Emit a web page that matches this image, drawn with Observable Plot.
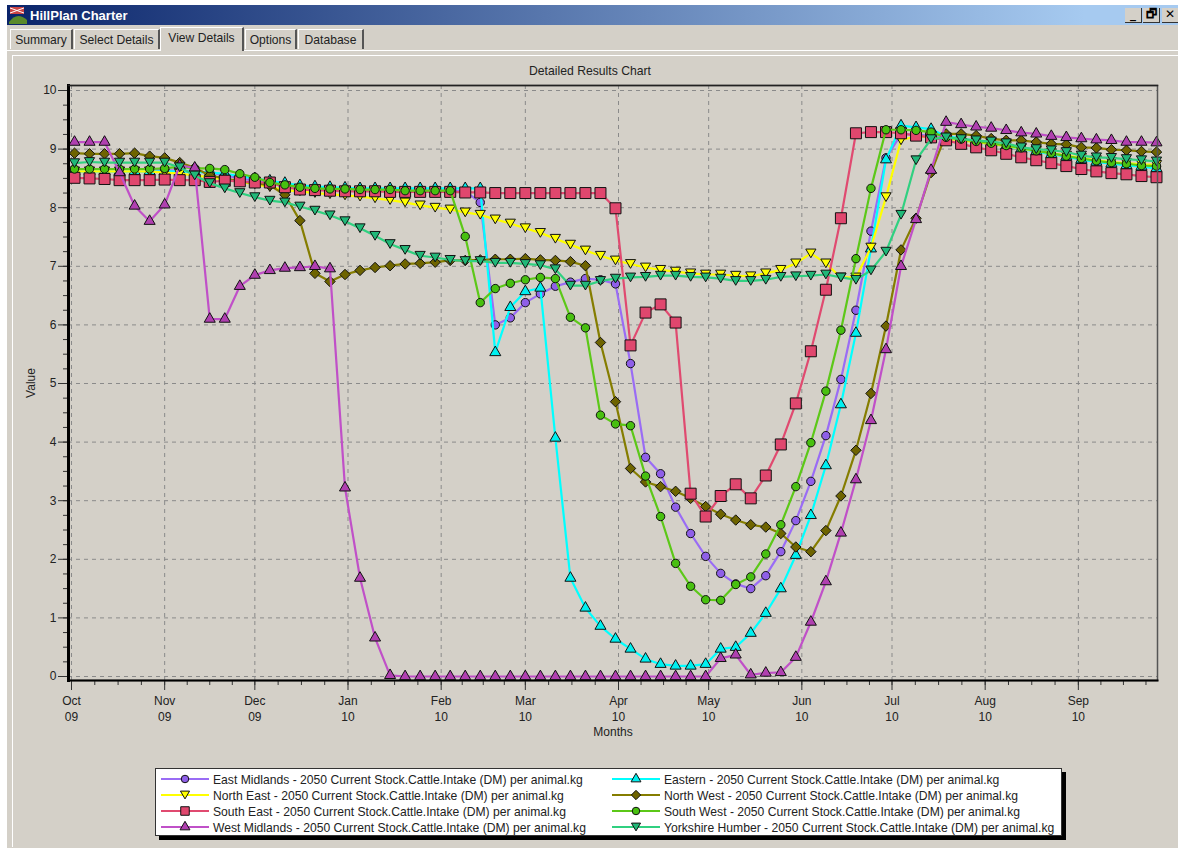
<!DOCTYPE html>
<html><head><meta charset="utf-8">
<script src="https://cdn.jsdelivr.net/npm/d3@7"></script>
<script src="https://cdn.jsdelivr.net/npm/@observablehq/plot@0.6"></script>
<style>
html,body{margin:0;padding:0;background:#fff;overflow:hidden}
#page{position:relative;width:1178px;height:850px;font-family:"Liberation Sans",Arial,sans-serif;color:#222}
#win{position:absolute;left:7px;top:5px;width:1171px;height:843px;background:#d4d0c8}
#bar{position:absolute;left:7px;top:5px;width:1171px;height:20px;background:linear-gradient(90deg,#0a246a,#a6caf0 92%)}
#ttl{position:absolute;left:30px;top:8px;font:bold 13px "Liberation Sans",sans-serif;color:#fff}
.tab{position:absolute;top:29px;height:19px;background:#d4d0c8;border:1px solid #fff;border-right:2px solid #555;border-bottom:none;font:12.1px/20px "Liberation Sans",sans-serif;text-align:center;box-sizing:content-box;color:#222;white-space:nowrap}
.sel{top:27px;height:23px;z-index:2;line-height:20px}
#line1{position:absolute;left:7px;right:0;top:50px;height:1px;background:#fff}
#line2{position:absolute;left:12px;right:0;top:55px;height:1px;background:#fff}
#line3{position:absolute;left:12px;top:55px;width:1px;height:792px;background:#fff}
.btn{position:absolute;top:8px;width:16px;height:14px;background:#d4d0c8;border-right:1px solid #333;border-bottom:1px solid #333;font:bold 12px/13px "DejaVu Sans",sans-serif;text-align:center;color:#000}
#chartTitle{position:absolute;left:0;width:1180px;top:64px;text-align:center;font-size:12.2px}
#plot{position:absolute;left:0;top:0}
#legend{position:absolute;left:155px;top:768px;width:907px;height:68px;background:#fff;border:1px solid #333;box-shadow:4px 4px 0 #000;box-sizing:border-box}
.lg{position:absolute;height:16px;font-size:12.15px;line-height:16px;color:#222;white-space:nowrap}
.lg svg{position:absolute;left:0;top:0;overflow:visible}
.lg span{position:absolute;left:52px;top:1px}
</style></head>
<body><div id="page">
<div id="win"></div><div id="bar"></div>
<svg style="position:absolute;left:9px;top:7px" width="18" height="17"><rect x="1" y="0" width="14" height="7" fill="#c44"/><path d="M1 1l14 5M15 1L1 6" stroke="#fff"/><path d="M0 15Q8 4 18 13V17H0Z" fill="#5a8a2a"/></svg>
<div id="ttl">HillPlan Charter</div>
<div class="btn" style="left:1125px">_</div><div class="btn" style="left:1143px">&#x1F5D7;</div><div class="btn" style="left:1162px">&#x2715;</div>
<div id="line1"></div><div id="line2"></div><div id="line3"></div>
<div class="tab" style="left:10px;width:60px">Summary</div>
<div class="tab" style="left:74px;width:83px">Select Details</div>
<div class="tab sel" style="left:160px;width:81px">View Details</div>
<div class="tab" style="left:245px;width:49px">Options</div>
<div class="tab" style="left:298px;width:63px">Database</div>
<div id="chartTitle">Detailed Results Chart</div>
<div id="plot"></div>
<div id="legend"></div>
</div>
<script>
const seriesNames = ["East Midlands","Eastern","North East","North West","South East","South West","West Midlands","Yorkshire Humber"];
const seriesSuffix = " - 2050 Current Stock.Cattle.Intake (DM) per animal.kg";
const lineColors = ["#9a6cf5","#00ffff","#ffff00","#857d00","#e04a70","#5cc818","#c050c8","#30d080"];
const dotColors  = ["#8f5fe8","#00f0f0","#ffff00","#6e6400","#e0476e","#48c010","#b040b0","#20b878"];
const monthLabels = ["Oct","Nov","Dec","Jan","Feb","Mar","Apr","May","Jun","Jul","Aug","Sep"];
const yearLabels  = ["09","09","09","10","10","10","10","10","10","10","10","10"];
const monthStart = [[2009,9],[2009,10],[2009,11],[2010,0],[2010,1],[2010,2],[2010,3],[2010,4],[2010,5],[2010,6],[2010,7],[2010,8],[2010,9]];
const eastMidlands = [8.64,8.64,8.64,8.64,8.64,8.64,8.64,8.63,8.62,8.6,
 8.55,8.5,8.46,8.42,8.38,8.35,8.33,8.32,8.31,8.31,
 8.3,8.3,8.29,8.29,8.29,8.29,8.28,8.09,6.0,6.12,
 6.38,6.53,6.66,6.73,6.79,6.77,6.7,5.34,3.74,3.46,
 2.89,2.44,2.05,1.76,1.58,1.5,1.72,2.13,2.66,3.33,
 4.11,5.07,6.25,7.6,8.85,9.25,9.25,9.22,9.2,9.17,
 9.13,9.09,9.05,9.01,8.96,8.92,8.88,8.83,8.79,8.76,
 8.74,8.72,8.7];
const eastern = [8.62,8.62,8.62,8.62,8.62,8.62,8.62,8.62,8.61,8.6,
 8.58,8.54,8.5,8.46,8.42,8.38,8.36,8.35,8.34,8.33,
 8.33,8.33,8.33,8.33,8.33,8.33,8.33,8.33,5.53,6.3,
 6.57,6.63,4.07,1.68,1.17,.86,.64,.47,.3,.21,
 .18,.18,.21,.47,.5,.74,1.08,1.5,2.07,2.75,
 3.6,4.64,5.86,7.3,8.82,9.4,9.37,9.34,9.22,9.18,
 9.14,9.1,9.05,9.0,8.96,8.91,8.87,8.82,8.78,8.75,
 8.72,8.7,8.67];
const northEast = [8.62,8.62,8.62,8.62,8.62,8.62,8.6,8.58,8.55,8.52,
 8.48,8.44,8.4,8.35,8.3,8.28,8.25,8.23,8.21,8.19,
 8.16,8.13,8.09,8.04,8.0,7.97,7.92,7.88,7.8,7.73,
 7.65,7.57,7.47,7.37,7.27,7.18,7.1,7.04,6.98,6.94,
 6.91,6.88,6.86,6.86,6.84,6.83,6.88,6.94,7.05,7.22,
 7.05,6.81,6.81,7.32,8.18,9.15,9.22,9.2,9.18,9.15,
 9.12,9.09,9.05,9.01,8.97,8.93,8.89,8.85,8.81,8.78,
 8.76,8.74,8.73];
const northWest = [8.93,8.92,8.92,8.92,8.93,8.88,8.85,8.77,8.68,8.55,
 8.5,8.45,8.42,8.38,8.22,7.78,6.88,6.74,6.86,6.93,
 6.98,7.01,7.04,7.05,7.07,7.1,7.1,7.11,7.12,7.12,
 7.13,7.11,7.1,7.08,7.01,5.7,4.69,3.55,3.32,3.24,
 3.16,3.04,2.9,2.77,2.67,2.59,2.55,2.44,2.21,2.13,
 2.49,3.08,3.86,4.83,5.98,7.28,7.82,8.6,9.26,9.26,
 9.23,9.18,9.15,9.15,9.12,9.09,9.08,9.03,9.02,8.99,
 8.98,8.96,8.95];
const southEast = [8.51,8.5,8.49,8.47,8.47,8.47,8.48,8.47,8.47,8.44,
 8.46,8.45,8.43,8.43,8.35,8.31,8.3,8.29,8.28,8.28,
 8.28,8.27,8.27,8.27,8.27,8.27,8.26,8.26,8.25,8.25,
 8.25,8.25,8.25,8.25,8.25,8.25,7.99,5.65,6.21,6.35,
 6.04,3.12,2.73,3.08,3.28,3.04,3.43,3.96,4.66,5.55,
 6.6,7.82,9.27,9.29,9.29,9.27,9.23,9.2,9.15,9.09,
 9.03,8.98,8.92,8.86,8.81,8.76,8.71,8.66,8.62,8.59,
 8.57,8.54,8.52];
const southWest = [8.66,8.66,8.66,8.66,8.66,8.66,8.67,8.7,8.67,8.67,
 8.65,8.58,8.52,8.43,8.39,8.35,8.33,8.32,8.32,8.31,
 8.31,8.31,8.29,8.29,8.29,8.29,7.51,6.38,6.62,6.71,
 6.77,6.81,6.79,6.13,5.95,4.46,4.31,4.28,3.42,2.73,
 1.93,1.54,1.31,1.3,1.57,1.7,2.09,2.59,3.24,3.99,
 4.87,5.91,7.13,8.33,9.33,9.33,9.32,9.29,9.2,9.17,
 9.13,9.1,9.06,9.02,8.97,8.93,8.88,8.84,8.8,8.77,
 8.75,8.72,8.71];
const westMidlands = [9.12,9.12,9.12,8.6,8.03,7.77,8.05,8.72,8.68,6.1,
 6.1,6.66,6.85,6.93,6.97,6.98,7.0,6.96,3.22,1.68,
 .66,.02,0,0,0,0,0,0,0,0,
 0,0,0,0,0,0,0,0,0,0,
 0,0,0,.31,.37,.03,.06,.07,.33,.93,
 1.62,2.45,3.36,4.37,5.58,7.0,7.8,8.64,9.46,9.42,
 9.38,9.36,9.32,9.28,9.26,9.22,9.2,9.18,9.16,9.15,
 9.12,9.12,9.11];
const yorkshireHumber = [8.76,8.78,8.77,8.77,8.77,8.77,8.77,8.69,8.55,8.42,
 8.33,8.25,8.18,8.12,8.09,8.02,7.95,7.87,7.77,7.65,
 7.52,7.38,7.28,7.18,7.15,7.11,7.09,7.09,7.06,7.06,
 7.04,7.02,6.95,6.67,6.67,6.75,6.79,6.81,6.82,6.84,
 6.84,6.82,6.81,6.79,6.75,6.75,6.77,6.82,6.83,6.84,
 6.86,6.81,6.77,6.93,7.25,7.88,8.81,9.17,9.2,9.17,
 9.15,9.13,9.1,9.03,9.0,8.98,8.95,8.89,8.86,8.85,
 8.83,8.81,8.79];
const allValues = [eastMidlands,eastern,northEast,northWest,southEast,southWest,westMidlands,yorkshireHumber];

const invTriangle = {draw(c,size){const s=Math.sqrt(size),w=s*0.7,h=s*0.6;c.moveTo(-w,-h);c.lineTo(w,-h);c.lineTo(0,h);c.closePath();}};
const symbols = ["circle","triangle",invTriangle,"diamond2","square","circle","triangle",invTriangle];
const radii = [4.2,4.1,4.1,4.7,6.2,4.2,4.1,4.1];

const pointStep = 5*864e5, firstPoint = Date.UTC(2009,9,2);
const dayOf = (v,i)=>new Date(firstPoint+i*pointStep);
const months = monthStart.slice(0,12).map(([y,m])=>new Date(Date.UTC(y,m,1)));
const minor = [];
for(let i=0;i<12;i++){const a=Date.UTC(...monthStart[i],1),b=Date.UTC(...monthStart[i+1],1);for(let j=0;j<4;j++)minor.push(new Date(a+(b-a)*j/4));}
const label = new Map(months.map((d,i)=>[+d,monthLabels[i]+"\n"+yearLabels[i]]));
const gridStyle = {stroke:"#8a8a8a",strokeWidth:1,strokeDasharray:"4,4"};
const textColor = "#222";

const marks = [
  Plot.ruleX(months,gridStyle),
  Plot.ruleY(d3.range(0,11),gridStyle),
  Plot.axisX(minor,{tickSize:5,tickFormat:()=>"",stroke:"#333",label:null}),
  Plot.axisX(months,{tickSize:10,tickPadding:3,tickFormat:d=>label.get(+d),lineHeight:1.33,fontSize:12,fill:textColor,stroke:"#333",
    label:"Months",labelAnchor:"center",labelArrow:"none",labelOffset:55}),
  Plot.axisY(d3.range(0,10.01,.25),{tickSize:5,tickFormat:()=>"",stroke:"#333",label:null}),
  Plot.axisY(d3.range(0,11),{tickSize:10,tickPadding:2,tickFormat:d=>String(d),fontSize:12,fill:textColor,stroke:"#333",
    label:"Value",labelAnchor:"center",labelArrow:"none",labelOffset:42})
];
allValues.forEach((vals,s)=>{
  marks.push(Plot.line(vals,{x:dayOf,y:d=>d,stroke:lineColors[s],strokeWidth:2.2}));
  marks.push(Plot.dot(vals,{x:dayOf,y:d=>d,symbol:symbols[s],r:radii[s],fill:dotColors[s],stroke:"#111",strokeWidth:1}));
});
marks.push(Plot.frame({stroke:"#555",strokeWidth:1.5}));
marks.push(Plot.frame({anchor:"left",stroke:"#000",strokeWidth:3}));
marks.push(Plot.frame({anchor:"bottom",stroke:"#000",strokeWidth:2}));
marks.push(Plot.frame({anchor:"top",stroke:"#222",strokeWidth:1.5}));

const chart = Plot.plot({
  width:1178,height:745,marginLeft:68,marginRight:21,marginTop:85,marginBottom:65,
  style:{background:"transparent",fontFamily:'"Liberation Sans",Arial,sans-serif',fontSize:"12.2px",color:textColor},
  x:{type:"utc",domain:[new Date(Date.UTC(2009,9,1)),new Date(Date.UTC(2010,8,28))],range:[71,1159]},
  y:{domain:[0,10],range:[676,90]},
  marks
});
document.getElementById("plot").append(chart);

const legend = document.getElementById("legend");
const rowY = [2,18,34,50], colX = [5,456];
const pos = [[0,0],[1,0],[0,1],[1,1],[0,2],[1,2],[0,3],[1,3]];
seriesNames.forEach((n,s)=>{
  const [cx,ry]=pos[s];
  const el=document.createElement("div");
  el.className="lg";
  el.style.left=colX[cx]+"px";el.style.top=rowY[ry]+"px";
  const sym = symbols[s];
  const gen = d3.symbol(typeof sym==="string"?{circle:d3.symbolCircle,triangle:d3.symbolTriangle,square:d3.symbolSquare,diamond2:d3.symbolDiamond2}[sym]:sym, Math.PI*radii[s]*radii[s]*(sym==="square"?.6:.8))();
  el.innerHTML=`<svg width="50" height="16"><line x1="0" x2="48" y1="8" y2="8" stroke="${lineColors[s]}" stroke-width="2"/><path transform="translate(24,8)" d="${gen}" fill="${dotColors[s]}" stroke="#111"/></svg><span>${n}${seriesSuffix}</span>`;
  legend.append(el);
});
</script>
</body></html>
